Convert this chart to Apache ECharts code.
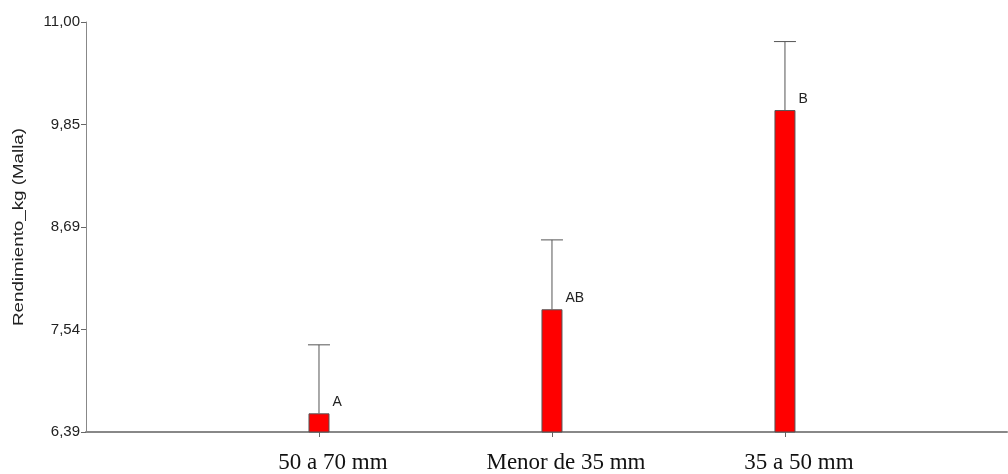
<!DOCTYPE html>
<html>
<head>
<meta charset="utf-8">
<script src="https://cdn.jsdelivr.net/npm/echarts@6/dist/echarts.min.js"></script>
<style>html,body{margin:0;padding:0;background:#fff}#c{width:1008px;height:474px}</style>
</head>
<body>
<div id="c"></div>
<script>
var categories = ['50 a 70 mm', 'Menor de 35 mm', '35 a 50 mm'];
var means = [6.60, 7.77, 10.01];
var upper = [7.37, 8.55, 10.78];
var letters = ['A', 'AB', 'B'];
var tickValues = [6.39, 7.5425, 8.695, 9.8475, 11.00];
var tickLabels = ['6,39', '7,54', '8,69', '9,85', '11,00'];
var yTitle = 'Rendimiento_kg (Malla)';
var catPos = [1, 2, 3];

var chart = echarts.init(document.getElementById('c'));
var barData = means.map(function (v, i) { return [catPos[i], v]; });
var errData = means.map(function (v, i) { return [catPos[i], v, upper[i]]; });

chart.setOption({
  animation: false,
  grid: { left: 86, right: 1, top: 22, bottom: 40 },
  graphic: [{
    type: 'text', x: 19, y: 227, rotation: Math.PI / 2, scaleX: 1.25,
    style: { text: yTitle, font: '15px "Liberation Sans"', fill: '#222', align: 'center', verticalAlign: 'middle' }
  }],
  xAxis: {
    type: 'value', min: 0, max: 3.953,
    splitLine: { show: false },
    axisLine: { show: true, onZero: false, lineStyle: { color: '#888', width: 2 } },
    axisTick: { show: true, customValues: catPos, length: 5, inside: false, lineStyle: { color: '#666', width: 1 } },
    axisLabel: {
      customValues: catPos, margin: 19, padding: [0, 0, 0, 28],
      fontFamily: 'Liberation Serif', fontSize: 23, color: '#111',
      formatter: function (v) { return categories[Math.round(v) - 1]; }
    }
  },
  yAxis: {
    type: 'value', min: 6.39, max: 11.00,
    splitLine: { show: false },
    axisLine: { show: true, lineStyle: { color: '#888', width: 1 } },
    axisTick: { show: true, customValues: tickValues, length: 5, lineStyle: { color: '#666' } },
    axisLabel: {
      customValues: tickValues, margin: 6,
      fontFamily: 'Liberation Sans', fontSize: 15, color: '#222',
      formatter: function (v) {
        for (var i = 0; i < tickValues.length; i++) if (Math.abs(tickValues[i] - v) < 1e-6) return tickLabels[i];
        return '';
      }
    }
  },
  series: [
    {
      type: 'custom',
      z: 1,
      renderItem: function (params, api) {
        var x = api.value(0);
        var p0 = api.coord([x, api.value(1)]);
        var p1 = api.coord([x, api.value(2)]);
        var half = 11;
        return {
          type: 'group',
          children: [
            { type: 'line', shape: { x1: p0[0], y1: p0[1], x2: p1[0], y2: p1[1] }, style: { stroke: '#555', lineWidth: 1 } },
            { type: 'line', shape: { x1: p1[0] - half, y1: p1[1], x2: p1[0] + half, y2: p1[1] }, style: { stroke: '#555', lineWidth: 1 } }
          ]
        };
      },
      data: errData
    },
    {
      type: 'bar',
      z: 2,
      barWidth: 21,
      clip: true,
      itemStyle: { color: '#ff0000', borderColor: '#555', borderWidth: 1 },
      label: {
        show: true, position: [24, -18],
        fontFamily: 'Liberation Sans', fontSize: 14, color: '#222',
        formatter: function (p) { return letters[p.dataIndex]; }
      },
      data: barData
    }
  ]
});
</script>
</body>
</html>
